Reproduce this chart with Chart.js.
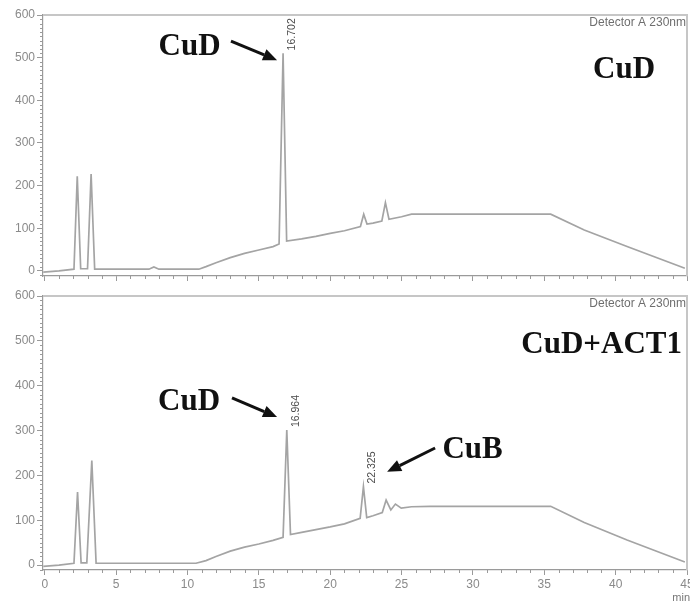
<!DOCTYPE html>
<html><head><meta charset="utf-8">
<script src="https://cdn.jsdelivr.net/npm/chart.js@4/dist/chart.umd.min.js"></script>
<style>
html,body{margin:0;padding:0;background:#fff;}
#wrap{position:relative;width:690px;height:610px;overflow:hidden;background:#fff;}
.c{position:absolute;left:0;width:690px;}
canvas{display:block;}
</style></head><body>
<div id="wrap">
<div class="c" style="top:0;height:285px"><canvas id="topChart" width="690" height="285"></canvas></div>
<div class="c" style="top:285px;height:325px"><canvas id="botChart" width="690" height="325"></canvas></div>
</div>
<script>
// ---- data (retention time in min, signal in mAU) ----
const topTime   = [-0.1, 1.0, 2.05, 2.28, 2.52, 2.62, 3.0, 3.25, 3.5, 4.5, 7.3, 7.65, 8.0, 10.8, 11.3, 12, 13, 14, 15, 16, 16.42, 16.70, 16.95, 18, 19, 20, 21, 22.12, 22.35, 22.58, 23, 23.62, 23.87, 24.12, 25, 25.7, 27, 35.45, 37.8, 40.8, 44.85];
const topSignal = [-3,   0,   4,    222,  5,    5,    5,   227,  4,   4,   4,   9,    4,   4,    10,   19, 31, 41, 49, 57, 63,    510,   70,    75, 81, 88, 94, 104,   133,   110,   112, 117,   160,   121,   127, 133, 133, 133, 96, 57, 6];

const botTime   = [-0.1, 1.0, 2.05, 2.3, 2.55, 2.95, 3.3, 3.6, 5, 10.6, 11.3, 12, 13, 14, 15, 16, 16.7, 16.96, 17.22, 18, 19, 20, 21, 22.1, 22.33, 22.56, 23, 23.65, 23.92, 24.25, 24.57, 24.98, 25.7, 27, 35.45, 37.8, 40.8, 44.85];
const botSignal = [-3,   0,   4,    163, 5,    5,    233, 4,   4, 4,    10,   19, 31, 40, 47, 55, 62,   301,   68,    73, 79, 85, 92, 104,  175,   106,   110, 117,  145,   123,   136,   127,   130,  131, 131,  95,   56,   7];

const xTickValues = [0, 5, 10, 15, 20, 25, 30, 35, 40, 45];
const yTickValues = [0, 100, 200, 300, 400, 500, 600];

const detectorLabel = 'Detector A 230nm';
const topPeakLabels = [{t: 16.70, v: 510, text: '16.702'}];
const botPeakLabels = [{t: 16.96, v: 301, text: '16.964'}, {t: 22.33, v: 175, text: '22.325'}];
// annotation texts anchored in data coordinates (baseline centre)
const topTexts = [{t: 10.15, v: 506, text: 'CuD'}, {t: 40.59, v: 452, text: 'CuD'}];
const botTexts = [{t: 10.11, v: 346, text: 'CuD'}, {t: 29.98, v: 239, text: 'CuB'}, {t: 39.02, v: 473, text: 'CuD+ACT1'}];
const topArrows = [{t1: 13.05, v1: 539, t2: 16.28, v2: 494}];
const botArrows = [{t1: 13.12, v1: 373, t2: 16.28, v2: 330}, {t1: 27.35, v1: 261, t2: 23.99, v2: 208}];

const AXIS = '#9a9a9a';
const TRACE = '#a4a4a4';
const SANS = '"Liberation Sans", Arial, sans-serif';
const SERIF = '"Liberation Serif", "Times New Roman", serif';

function arrow(ctx, x1, y1, x2, y2) {
  const ang = Math.atan2(y2 - y1, x2 - x1);
  const hl = 14, hw = 6;
  const bx = x2 - hl * Math.cos(ang), by = y2 - hl * Math.sin(ang);
  ctx.save();
  ctx.strokeStyle = '#111'; ctx.fillStyle = '#111'; ctx.lineWidth = 3;
  ctx.beginPath(); ctx.moveTo(x1, y1); ctx.lineTo(bx, by); ctx.stroke();
  ctx.beginPath();
  ctx.moveTo(x2, y2);
  ctx.lineTo(bx + hw * Math.sin(ang), by - hw * Math.cos(ang));
  ctx.lineTo(bx - hw * Math.sin(ang), by + hw * Math.cos(ang));
  ctx.closePath(); ctx.fill();
  ctx.restore();
}

function decoPlugin(peaks, texts, arrows, showMin) {
  return {
    id: 'deco',
    afterDraw(chart) {
      const {ctx, chartArea: a, scales: {x, y}} = chart;
      ctx.save();
      // frame top + right
      ctx.strokeStyle = '#c6c6c6'; ctx.lineWidth = 2;
      ctx.beginPath();
      ctx.moveTo(a.left, a.top); ctx.lineTo(a.right, a.top); ctx.lineTo(a.right, a.bottom);
      ctx.stroke();
      // minor ticks
      ctx.strokeStyle = AXIS; ctx.lineWidth = 1;
      ctx.beginPath();
      for (let t = 1; t <= 44; t++) {
        if (t % 5 === 0) continue;
        const px = Math.round(x.getPixelForValue(t)) + 0.5;
        ctx.moveTo(px, a.bottom); ctx.lineTo(px, a.bottom + 3);
      }
      for (let v = -10; v <= 590; v += 10) {
        if (v % 100 === 0) continue;
        const py = Math.round(y.getPixelForValue(v)) + 0.5;
        ctx.moveTo(a.left - 3, py); ctx.lineTo(a.left, py);
      }
      ctx.stroke();
      // detector label
      ctx.fillStyle = '#6e6e6e';
      ctx.font = '12px ' + SANS;
      ctx.textAlign = 'right'; ctx.textBaseline = 'middle';
      ctx.fillText(detectorLabel, a.right - 1, a.top + 8);
      // retention time labels (rotated)
      ctx.font = '10.5px ' + SANS;
      ctx.fillStyle = '#4a4a4a';
      peaks.forEach(p => {
        const px = x.getPixelForValue(p.t), py = y.getPixelForValue(p.v);
        ctx.save();
        ctx.translate(px + 9, py - 3);
        ctx.rotate(-Math.PI / 2);
        ctx.textAlign = 'left'; ctx.textBaseline = 'middle';
        ctx.fillText(p.text, 0, 0);
        ctx.restore();
      });
      // bold serif annotations
      ctx.fillStyle = '#111';
      ctx.font = 'bold 31px ' + SERIF;
      ctx.textAlign = 'center'; ctx.textBaseline = 'alphabetic';
      texts.forEach(s => ctx.fillText(s.text, x.getPixelForValue(s.t), y.getPixelForValue(s.v)));
      arrows.forEach(r => arrow(ctx, x.getPixelForValue(r.t1), y.getPixelForValue(r.v1), x.getPixelForValue(r.t2), y.getPixelForValue(r.v2)));
      if (showMin) {
        ctx.fillStyle = '#777';
        ctx.font = '11px ' + SANS;
        ctx.textAlign = 'right'; ctx.textBaseline = 'middle';
        ctx.fillText('min', 690, a.bottom + 28);
      }
      ctx.restore();
    }
  };
}

function makeChart(id, times, signal, yMin, xAxisHeight, padTop, showXLabels, peaks, texts, arrows) {
  return new Chart(document.getElementById(id), {
    type: 'line',
    data: {
      datasets: [{
        data: times.map((t, i) => ({x: t, y: signal[i]})),
        borderColor: TRACE, borderWidth: 1.7, pointRadius: 0, tension: 0, fill: false
      }]
    },
    options: {
      responsive: false, animation: false, devicePixelRatio: 1,
      layout: {padding: {top: padTop, right: 3, left: 0, bottom: 0}},
      plugins: {legend: {display: false}, tooltip: {enabled: false}},
      scales: {
        x: {
          type: 'linear', min: -0.12, max: 45,
          afterBuildTicks: s => { s.ticks = xTickValues.map(v => ({value: v})); },
          afterFit: s => { s.height = xAxisHeight; s.paddingLeft = 0; s.paddingRight = 0; },
          ticks: {
            color: '#8a8a8a', font: {size: 12, family: SANS}, padding: 2, maxRotation: 0, autoSkip: false,
            callback: v => showXLabels ? String(v) : ''
          },
          grid: {drawOnChartArea: false, tickLength: 5, tickColor: AXIS, color: AXIS},
          border: {color: AXIS, width: 1.2}
        },
        y: {
          type: 'linear', min: yMin, max: 600,
          afterBuildTicks: s => { s.ticks = yTickValues.map(v => ({value: v})); },
          afterFit: s => { s.width = 43; s.paddingTop = 0; s.paddingBottom = 0; },
          ticks: {color: '#8a8a8a', font: {size: 12, family: SANS}, padding: 2, autoSkip: false},
          grid: {drawOnChartArea: false, tickLength: 6, tickColor: AXIS, color: AXIS},
          border: {color: AXIS, width: 1.2}
        }
      }
    },
    plugins: [decoPlugin(peaks, texts, arrows, showXLabels)]
  });
}

makeChart('topChart', topTime, topSignal, -12, 9, 15, false, topPeakLabels, topTexts, topArrows);
makeChart('botChart', botTime, botSignal, -11, 40, 11, true, botPeakLabels, botTexts, botArrows);
</script>
</body></html>
